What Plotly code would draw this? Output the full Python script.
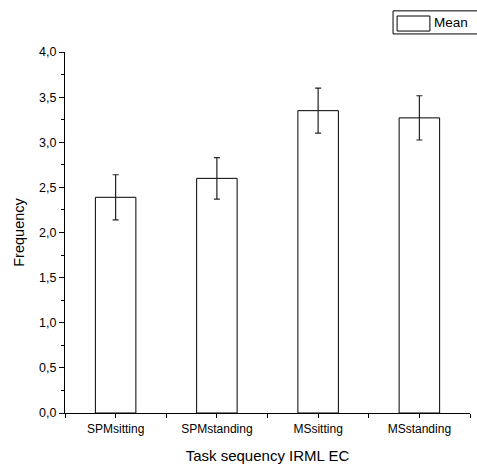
import plotly.graph_objects as go

categories = ["SPMsitting", "SPMstanding", "MSsitting", "MSstanding"]
means = [2.39, 2.60, 3.35, 3.27]
errors = [0.25, 0.23, 0.25, 0.245]
series_name = "Mean"
x_title = "Task sequency IRML EC"
y_title = "Frequency"

FONT = "Liberation Sans, Arial, sans-serif"
xpos = list(range(len(categories)))

# tick positions: category centres (labelled) plus boundaries (unlabelled)
tick_vals = []
tick_text = []
for i, c in enumerate(categories):
    tick_vals += [i - 0.5, i]
    tick_text += ["", c]
tick_vals.append(len(categories) - 0.5)
tick_text.append("")

fig = go.Figure()
fig.add_trace(go.Bar(
    x=xpos, y=means, width=0.4, name=series_name,
    marker=dict(color="white", line=dict(color="black", width=1)),
    error_y=dict(type="data", array=errors, visible=True,
                 color="#222", thickness=1.2, width=3),
    showlegend=False,
))

fig.update_layout(
    width=477, height=468,
    margin=dict(l=65, r=7, t=52, b=55),
    paper_bgcolor="white", plot_bgcolor="white",
    separators=",.",
    font=dict(family=FONT, color="black", size=12),
    xaxis=dict(
        range=[-0.5, 3.5], tickmode="array", tickvals=tick_vals, ticktext=tick_text,
        showline=True, linecolor="black", linewidth=1.2,
        ticks="outside", ticklen=4, tickwidth=1, tickcolor="black",
        showgrid=False, zeroline=False,
        tickfont=dict(size=12),
        title=dict(text=x_title, font=dict(size=15), standoff=15),
    ),
    yaxis=dict(
        range=[0, 4], dtick=0.5, tickformat=".1f",
        showline=True, linecolor="black", linewidth=1.2,
        ticks="outside", ticklen=5, tickwidth=1, tickcolor="black",
        minor=dict(dtick=0.25, ticks="outside", ticklen=3, tickwidth=1, tickcolor="black"),
        showgrid=False, zeroline=False,
        tickfont=dict(size=12.5),
        title=dict(text=y_title, font=dict(size=14.5), standoff=10),
    ),
)

# custom legend box
fig.add_shape(type="rect", xref="paper", yref="paper",
              x0=0.81, x1=1.03, y0=1.05, y1=1.114,
              line=dict(color="black", width=1), fillcolor="white")
fig.add_shape(type="rect", xref="paper", yref="paper",
              x0=0.82, x1=0.901, y0=1.058, y1=1.0997,
              line=dict(color="black", width=1), fillcolor="white")
fig.add_annotation(text=series_name, xref="paper", yref="paper",
                   x=0.906, y=1.081, xanchor="left", yanchor="middle",
                   showarrow=False, font=dict(size=13.5))

fig.write_html("out.html")
